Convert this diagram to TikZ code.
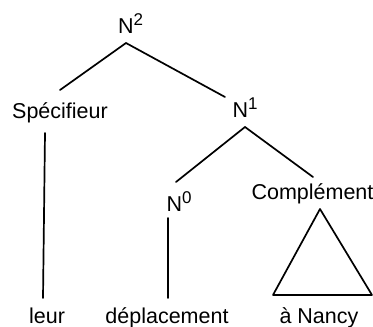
\documentclass[tikz,border=0pt]{standalone}
\usepackage{fontspec}
\setmainfont{Liberation Sans}
\usepackage{tikz}
\usetikzlibrary{calc}

\newcommand{\Nbar}[1]{N\raisebox{8pt}{\fontsize{17}{17}\selectfont #1}}

\tikzset{
	lbl/.style={font=\fontsize{21.5}{21.5}\selectfont,inner sep=0pt,anchor=base},
	branch/.style={line width=1.7pt,line cap=round,line join=round}
}

\begin{document}
\begin{tikzpicture}[x=1pt,y=-1pt]
		\useasboundingbox (0,0) rectangle (373,327);
		% etiquettes de l'arbre
		\node[lbl] (n2) at (130.5,33) {\Nbar{2}};
		\node[lbl] (spec) at (60,118) {Spécifieur};
		\node[lbl] (n1) at (245,117) {\Nbar{1}};
		\node[lbl] (n0) at (179,211) {\Nbar{0}};
		\node[lbl] (comp) at (312.5,199) {Complément};
		\node[lbl] (leur) at (47,323) {leur};
		\node[lbl] (depl) at (167,323) {déplacement};
		\node[lbl] (nancy) at (319,323) {à Nancy};
		% branches
		\draw[branch] ($(n2.base)+(-4.5,10)$) -- ($(spec.base)+(0,-28)$);
		\draw[branch] ($(n2.base)+(-4.5,10)$) -- ($(n1.base)+(-20,-20)$);
		\draw[branch] ($(spec.base)+(-15,15)$) -- ($(leur.base)+(-4,-25)$);
		\draw[branch] ($(n1.base)+(0,10)$) -- ($(n0.base)+(-3,-29)$);
		\draw[branch] ($(n1.base)+(0,10)$) -- ($(comp.base)+(0.5,-22)$);
		\draw[branch] ($(n0.base)+(-11,7)$) -- ($(depl.base)+(1,-25)$);
		\draw[branch] ($(comp.base)+(7.5,10)$) -- ($(nancy.base)+(-46,-28)$) -- ($(nancy.base)+(53,-28)$) -- cycle;
	\end{tikzpicture}
\end{document}
